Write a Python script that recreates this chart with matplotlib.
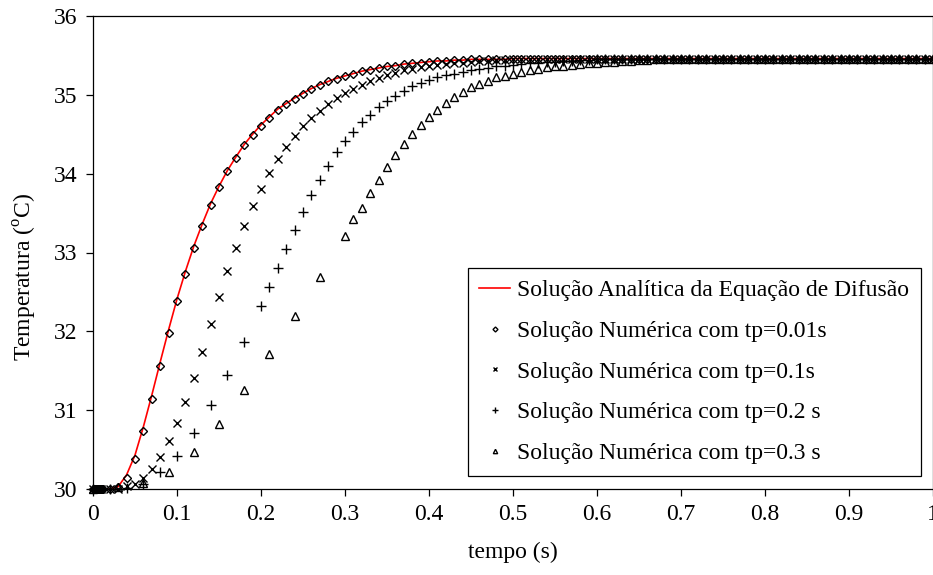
import numpy as np
import matplotlib
matplotlib.use("Agg")
import matplotlib.pyplot as plt

plt.rcParams["font.family"] = ["Liberation Serif", "DejaVu Serif"]
plt.rcParams["mathtext.fontset"] = "custom"
plt.rcParams["mathtext.rm"] = "Liberation Serif"

# time grid of the outputs (s)
tempo = np.linspace(0, 1, 101)

# analytical solution (red line), one value every 0.01 s
analitica = [
    30.00, 30.00, 30.00, 30.03, 30.18, 30.43, 30.79, 31.19, 31.61, 32.02,
    32.41, 32.76, 33.08, 33.36, 33.62, 33.84, 34.04, 34.21, 34.37, 34.50,
    34.62, 34.72, 34.82, 34.89, 34.96, 35.02, 35.08, 35.13, 35.17, 35.21,
    35.24, 35.27, 35.30, 35.32, 35.34, 35.36, 35.37, 35.39, 35.40, 35.41,
    35.42, 35.43, 35.43, 35.44, 35.44, 35.45, 35.45, 35.45, 35.45, 35.45,
    35.46, 35.46, 35.46, 35.46, 35.46, 35.46, 35.46, 35.46, 35.46, 35.46,
    35.46, 35.46, 35.46, 35.46, 35.46, 35.46, 35.46, 35.46, 35.46, 35.46,
    35.46, 35.46, 35.46, 35.46, 35.46, 35.46, 35.46, 35.46, 35.46, 35.46,
    35.46, 35.46, 35.46, 35.46, 35.46, 35.46, 35.46, 35.46, 35.46, 35.46,
    35.46, 35.46, 35.46, 35.46, 35.46, 35.46, 35.46, 35.46, 35.46, 35.46,
    35.46,
]

# tp = 0.01 s : dense outputs at the very start, then every 0.01 s
t_001_inicio = [0.001, 0.002, 0.003, 0.004, 0.005, 0.006, 0.007, 0.008, 0.009, 0.011, 0.012]
T_001_inicio = [30.00, 30.00, 30.00, 30.00, 30.00, 30.00, 30.00, 30.00, 30.00, 30.00, 30.00]
T_001 = [
    30.00, 30.00, 30.00, 30.02, 30.14, 30.38, 30.74, 31.14, 31.56, 31.98,
    32.38, 32.73, 33.06, 33.34, 33.60, 33.83, 34.03, 34.20, 34.36, 34.49,
    34.61, 34.71, 34.81, 34.88, 34.95, 35.01, 35.07, 35.12, 35.17, 35.20,
    35.24, 35.27, 35.30, 35.32, 35.34, 35.36, 35.37, 35.39, 35.40, 35.41,
    35.42, 35.43, 35.43, 35.44, 35.44, 35.45, 35.45, 35.45, 35.45, 35.45,
    35.46, 35.46, 35.46, 35.46, 35.46, 35.46, 35.46, 35.46, 35.46, 35.46,
    35.46, 35.46, 35.46, 35.46, 35.46, 35.46, 35.46, 35.46, 35.46, 35.46,
    35.46, 35.46, 35.46, 35.46, 35.46, 35.46, 35.46, 35.46, 35.46, 35.46,
    35.46, 35.46, 35.46, 35.46, 35.46, 35.46, 35.46, 35.46, 35.46, 35.46,
    35.46, 35.46, 35.46, 35.46, 35.46, 35.46, 35.46, 35.46, 35.46, 35.46,
    35.46,
]

# tp = 0.1 s, every 0.01 s
T_01 = [
    30.00, 30.00, 30.00, 30.00, 30.04, 30.06, 30.14, 30.25, 30.40, 30.61,
    30.84, 31.10, 31.41, 31.74, 32.09, 32.43, 32.76, 33.06, 33.33, 33.59,
    33.81, 34.01, 34.18, 34.34, 34.48, 34.60, 34.70, 34.80, 34.88, 34.96,
    35.02, 35.07, 35.12, 35.17, 35.21, 35.25, 35.28, 35.31, 35.33, 35.35,
    35.37, 35.38, 35.39, 35.40, 35.41, 35.42, 35.43, 35.43, 35.44, 35.44,
    35.45, 35.45, 35.45, 35.46, 35.46, 35.46, 35.46, 35.46, 35.46, 35.46,
    35.46, 35.46, 35.46, 35.46, 35.46, 35.46, 35.46, 35.46, 35.46, 35.46,
    35.46, 35.46, 35.46, 35.46, 35.46, 35.46, 35.46, 35.46, 35.46, 35.46,
    35.46, 35.46, 35.46, 35.46, 35.46, 35.46, 35.46, 35.46, 35.46, 35.46,
    35.46, 35.46, 35.46, 35.46, 35.46, 35.46, 35.46, 35.46, 35.46, 35.46,
    35.46,
]

# tp = 0.2 s : every 0.02 s up to 0.2, then every 0.01 s
t_02_inicio = [0.00, 0.02, 0.04, 0.06, 0.08, 0.10, 0.12, 0.14, 0.16, 0.18]
T_02 = [
    30.00, 30.00, 30.01, 30.06, 30.21, 30.42, 30.71, 31.06, 31.45, 31.87,
    32.32, 32.56, 32.80, 33.04, 33.28, 33.51, 33.73, 33.92, 34.10, 34.27,
    34.41, 34.53, 34.65, 34.74, 34.84, 34.92, 34.99, 35.05, 35.11, 35.15,
    35.19, 35.22, 35.25, 35.27, 35.29, 35.31, 35.33, 35.34, 35.36, 35.37,
    35.38, 35.39, 35.40, 35.41, 35.42, 35.42, 35.43, 35.43, 35.44, 35.44,
    35.45, 35.45, 35.45, 35.46, 35.46, 35.46, 35.46, 35.46, 35.46, 35.46,
    35.46, 35.46, 35.46, 35.46, 35.46, 35.46, 35.46, 35.46, 35.46, 35.46,
    35.46, 35.46, 35.46, 35.46, 35.46, 35.46, 35.46, 35.46, 35.46, 35.46,
    35.46, 35.46, 35.46, 35.46, 35.46, 35.46, 35.46, 35.46, 35.46, 35.46,
    35.46,
]

# tp = 0.3 s : every 0.03 s up to 0.3, then every 0.01 s
t_03_inicio = [0.00, 0.03, 0.06, 0.09, 0.12, 0.15, 0.18, 0.21, 0.24, 0.27]
T_03 = [
    30.00, 30.02, 30.07, 30.21, 30.47, 30.83, 31.25, 31.71, 32.19, 32.69,
    33.21, 33.42, 33.57, 33.75, 33.92, 34.08, 34.24, 34.38, 34.50, 34.62,
    34.72, 34.81, 34.90, 34.97, 35.04, 35.10, 35.14, 35.18, 35.22, 35.24,
    35.27, 35.29, 35.31, 35.33, 35.35, 35.36, 35.37, 35.38, 35.39, 35.40,
    35.41, 35.42, 35.42, 35.43, 35.43, 35.44, 35.44, 35.45, 35.45, 35.45,
    35.46, 35.46, 35.46, 35.46, 35.46, 35.46, 35.46, 35.46, 35.46, 35.46,
    35.46, 35.46, 35.46, 35.46, 35.46, 35.46, 35.46, 35.46, 35.46, 35.46,
    35.46, 35.46, 35.46, 35.46, 35.46, 35.46, 35.46, 35.46, 35.46, 35.46,
    35.46,
]

legendas = [
    "Solução Analítica da Equação de Difusão",
    "Solução Numérica com tp=0.01s",
    "Solução Numérica com tp=0.1s",
    "Solução Numérica com tp=0.2 s",
    "Solução Numérica com tp=0.3 s",
]

t_001 = np.concatenate([t_001_inicio, tempo])
y_001 = np.concatenate([T_001_inicio, T_001])
t_02 = np.concatenate([t_02_inicio, tempo[20:]])
t_03 = np.concatenate([t_03_inicio, tempo[30:]])

FS = 17

fig = plt.figure(figsize=(9.33, 5.75), dpi=100)
ax = fig.add_axes([93 / 933, 86 / 575, 840 / 933, 473 / 575])

ax.plot(tempo, analitica, color="#ff0000", linewidth=1.2, label=legendas[0], zorder=2)
mk = dict(linestyle="none", color="black", markerfacecolor="none",
          markeredgewidth=1.0, clip_on=False, zorder=3)
ax.plot(t_001, y_001, marker="D", markersize=4.2, label=legendas[1], **mk)
ax.plot(tempo, T_01, marker="x", markersize=5.5, label=legendas[2], **mk)
ax.plot(t_02, T_02, marker="+", markersize=7, label=legendas[3], **mk)
ax.plot(t_03, T_03, marker="^", markersize=5.2, label=legendas[4], **mk)

ax.set_xlim(0, 1)
ax.set_ylim(30, 36)
ax.set_xticks(np.arange(0, 1.01, 0.1))
ax.set_xticklabels(["0", "0.1", "0.2", "0.3", "0.4", "0.5", "0.6", "0.7", "0.8", "0.9", "1"])
ax.set_yticks([30, 31, 32, 33, 34, 35, 36])
ax.tick_params(direction="out", length=5, width=0.9, labelsize=FS,
               top=False, right=False)
ax.tick_params(axis="x", pad=5.5)
ax.tick_params(axis="y", pad=6)
for s in ax.spines.values():
    s.set_linewidth(0.9)

ax.set_xlabel("tempo (s)", fontsize=FS)
ax.set_ylabel("Temperatura ($^{\\mathrm{o}}$C)", fontsize=FS)
ax.yaxis.set_label_coords(-0.064, 0.448)
ax.xaxis.set_label_coords(0.5, -0.111)

leg = ax.legend(loc="upper right", bbox_to_anchor=(0.9857, 0.467), borderaxespad=0,
                fontsize=FS, frameon=True, fancybox=False, edgecolor="black",
                framealpha=1, markerscale=0.6, handlelength=1.3, handletextpad=0.3,
                labelspacing=0.81, borderpad=0.5)
leg.get_frame().set_linewidth(0.9)

fig.savefig("out.png", dpi=100)
